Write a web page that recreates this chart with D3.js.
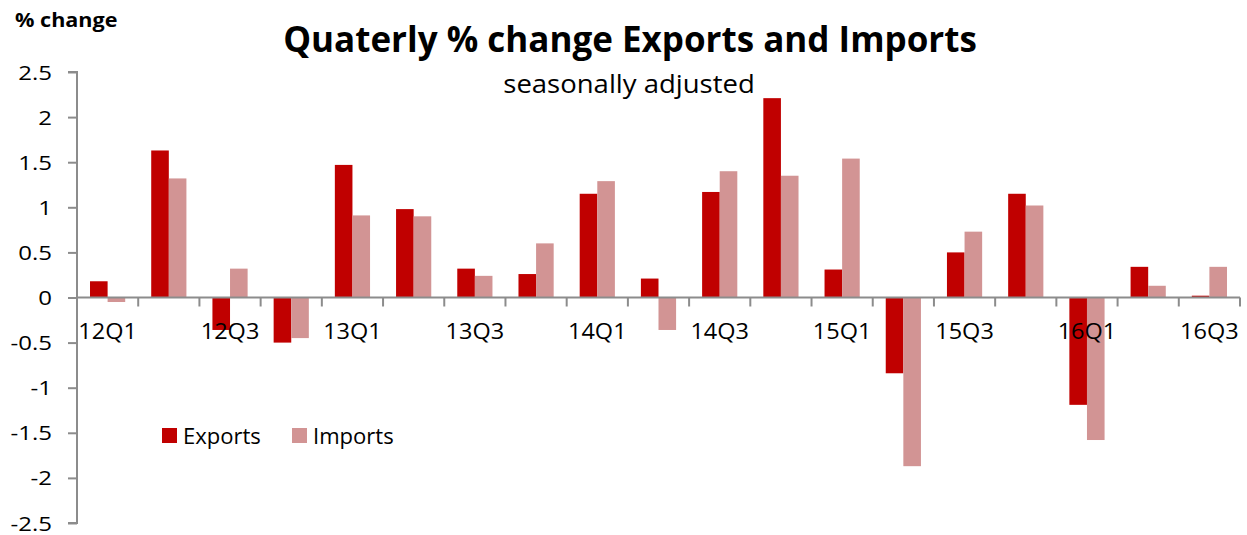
<!DOCTYPE html>
<html><head><meta charset="utf-8">
<script src="https://cdn.jsdelivr.net/npm/d3@7"></script>
<style>body{margin:0;background:#fff}svg{display:block}text{font-family:"Open Sans",Lato,sans-serif;fill:#000}</style>
</head><body><svg id="c" width="1247" height="535"></svg>
<script>
const categories = ["12Q1","12Q2","12Q3","12Q4","13Q1","13Q2","13Q3","13Q4","14Q1","14Q2","14Q3","14Q4","15Q1","15Q2","15Q3","15Q4","16Q1","16Q2","16Q3"];
const exportsVals = [0.18,1.63,-0.36,-0.50,1.47,0.98,0.32,0.26,1.15,0.21,1.17,2.21,0.31,-0.84,0.50,1.15,-1.19,0.34,0.02];
const importsVals = [-0.05,1.32,0.32,-0.45,0.91,0.90,0.24,0.60,1.29,-0.36,1.40,1.35,1.54,-1.87,0.73,1.02,-1.58,0.13,0.34];
const yTicks = [-2.5,-2,-1.5,-1,-0.5,0,0.5,1,1.5,2,2.5];
const xLabelCats = ["12Q1","12Q3","13Q1","13Q3","14Q1","14Q3","15Q1","15Q3","16Q1","16Q3"];
const seriesNames = ["Exports","Imports"];
const colors = ["#C00000","#D29494"];

const svg = d3.select("#c");
const x0 = 77, x1 = 1240, yTop = 72, yBot = 523;
const x = d3.scaleBand().domain(categories).range([x0,x1]).paddingInner(0.425).paddingOuter(0.2125);
const xs = d3.scaleBand().domain(seriesNames).range([0,x.bandwidth()]);
const y = d3.scaleLinear().domain([-2.5,2.5]).range([yBot,yTop]);
const xCat = d3.scaleBand().domain(categories).range([x0,x1]);

// horizontally stretched text helper
function stext(parent, px, py, sx, txt, size, anchor, weight){
  return parent.append("text")
    .attr("transform",`translate(${px},${py}) scale(${sx},1)`)
    .attr("text-anchor",anchor||"start")
    .style("font-size",size+"px").style("font-weight",weight||"normal").text(txt);
}

const data = categories.map((c,i)=>({c, vals:[exportsVals[i],importsVals[i]]}));
const g = svg.append("g");
data.forEach(d=>{
  d.vals.forEach((v,j)=>{
    g.append("rect")
      .attr("x", x(d.c)+xs(seriesNames[j]))
      .attr("width", xs.bandwidth())
      .attr("y", Math.min(y(v),y(0)))
      .attr("height", Math.abs(y(v)-y(0)))
      .attr("fill", colors[j]);
  });
});

// y axis
const ya = svg.append("g").attr("transform",`translate(${x0},0)`)
  .call(d3.axisLeft(y).tickValues(yTicks).tickSize(9).tickFormat(d=>String(d)));
ya.select(".domain").attr("stroke","#8c8c8c").attr("stroke-width",2).attr("d",`M-9,${yTop}H0V${yBot}H-9`);
ya.selectAll(".tick line").attr("stroke","#8c8c8c").attr("stroke-width",2);
ya.selectAll(".tick text").remove();
ya.selectAll(".tick").each(function(d){
  stext(d3.select(this), -25, 7, 1.2, String(d), 20, "end");
});

// x axis at zero
const xa = svg.append("g").attr("transform",`translate(0,${y(0)})`);
xa.append("line").attr("x1",x0).attr("x2",x1).attr("stroke","#8c8c8c").attr("stroke-width",2);
categories.concat(["_end"]).forEach((c,i)=>{
  const px = i<categories.length ? xCat(c) : x1;
  xa.append("line").attr("x1",px).attr("x2",px).attr("y1",0).attr("y2",9).attr("stroke","#8c8c8c").attr("stroke-width",2);
});
xLabelCats.forEach(c=>{
  stext(xa, xCat(c)+xCat.bandwidth()/2, 41, 1.12, c, 21, "middle");
});

// titles
stext(svg, 630, 52, 1.0, "Quaterly % change Exports and Imports", 35, "middle", "bold");
stext(svg, 629, 93, 1.1, "seasonally adjusted", 25, "middle");
stext(svg, 15, 27, 1.08, "% change", 20, "start", "bold");

// legend
const leg = [{x:162},{x:292}];
seriesNames.forEach((s,i)=>{
  svg.append("rect").attr("x",leg[i].x).attr("y",428).attr("width",15).attr("height",15).attr("fill",colors[i]);
  stext(svg, leg[i].x+21, 444, 1.05, s, 21, "start");
});
</script></body></html>
